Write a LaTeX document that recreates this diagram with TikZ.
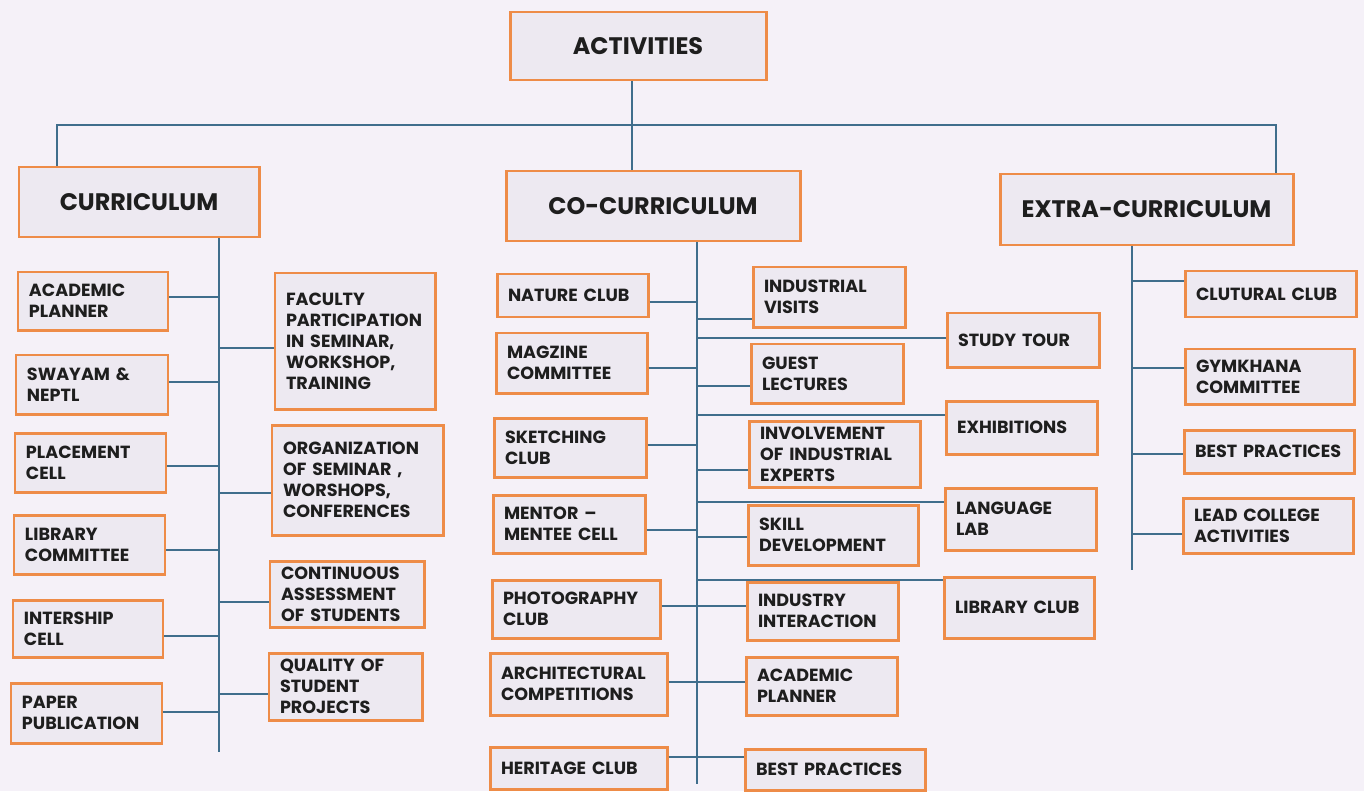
\documentclass[tikz,border=0pt]{standalone}
\usepackage{fontspec}
\setmainfont{Poppins}
\definecolor{boxorange}{RGB}{238,140,72}
\definecolor{boxfill}{RGB}{237,233,241}
\definecolor{paper}{RGB}{245,241,248}
\definecolor{linkblue}{RGB}{64,110,140}
\definecolor{ink}{RGB}{30,30,30}

\begin{document}
\begin{tikzpicture}[x=0.02cm,y=-0.02cm,
  box/.style={draw=boxorange,line width=1.7pt,fill=boxfill,text=ink,inner sep=0pt,
    align=left,font=\bfseries\fontsize{10}{12}\selectfont},
  head/.style={box,align=center,font=\bfseries\fontsize{13.6}{15}\selectfont},
  link/.style={draw=linkblue,line width=0.9pt}]
  \fill[paper] (0,0) rectangle (1364,791);
  \useasboundingbox (0,0) rectangle (1364,791);

  % header boxes
  \foreach \id/\xa/\ya/\xb/\yb/\txt in {
    act/510/12/766/80/ACTIVITIES,
    cur/19/167/259/237/CURRICULUM,
    cc/506/171/800/241/CO-CURRICULUM,
    ext/1000/174/1293/245/EXTRA-CURRICULUM} {
    \pgfmathsetmacro{\bw}{(\xb-\xa)*0.02}
    \pgfmathsetmacro{\bh}{(\yb-\ya)*0.02}
    \node[head,minimum width=\bw cm,minimum height=\bh cm] (\id) at ({(\xa+\xb)/2},{(\ya+\yb)/2}) {\txt};
  }

  % item boxes
  \foreach \id/\xa/\ya/\xb/\yb/\txt in {
    ap/18/272/168/330/{ACADEMIC\\PLANNER},
    sw/16/355/168/414/{SWAYAM \&\\NEPTL},
    pc/15/433/166/492/{PLACEMENT\\CELL},
    lc/14/515/165/574/{LIBRARY\\COMMITTEE},
    ic/13/600/163/657/{INTERSHIP\\CELL},
    pp/11/683/162/743/{PAPER\\PUBLICATION},
    fp/275/273/435/409/{FACULTY\\PARTICIPATION\\IN SEMINAR,\\WORKSHOP,\\TRAINING},
    os/272/425/443/535/{ORGANIZATION\\OF SEMINAR ,\\WORSHOPS,\\CONFERENCES},
    ca/270/561/424/627/{CONTINUOUS\\ASSESSMENT\\OF STUDENTS},
    qs/269/653/422/720/{QUALITY OF\\STUDENT\\PROJECTS},
    nc/497/274/648/317/{NATURE CLUB},
    mc/496/333/647/393/{MAGZINE\\COMMITTEE},
    sc/494/418/646/477/{SKETCHING\\CLUB},
    mm/493/495/645/553/{MENTOR –\\MENTEE CELL},
    pg/492/580/660/638/{PHOTOGRAPHY\\CLUB},
    ac/490/653/667/715/{ARCHITECTURAL\\COMPETITIONS},
    hc/490/747/667/789/{HERITAGE CLUB},
    iv/753/267/905/327/{INDUSTRIAL\\VISITS},
    gl/751/344/903/403/{GUEST\\LECTURES},
    ie/749/421/920/487/{INVOLVEMENT\\OF INDUSTRIAL\\EXPERTS},
    sd/748/505/918/565/{SKILL\\DEVELOPMENT},
    ii/747/582/898/640/{INDUSTRY\\INTERACTION},
    cp/746/657/897/715/{ACADEMIC\\PLANNER},
    cb/745/749/925/790/{BEST PRACTICES},
    st/947/313/1099/367/{STUDY TOUR},
    ex/946/401/1097/454/{EXHIBITIONS},
    ll/945/488/1096/550/{LANGUAGE\\LAB},
    lb/944/577/1094/638/{LIBRARY CLUB},
    cu/1185/271/1356/317/{CLUTURAL CLUB},
    gy/1185/349/1354/404/{GYMKHANA\\COMMITTEE},
    eb/1184/430/1354/473/{BEST PRACTICES},
    le/1183/498/1353/553/{LEAD COLLEGE\\ACTIVITIES}} {
    \pgfmathsetmacro{\bw}{(\xb-\xa)*0.02}
    \pgfmathsetmacro{\bh}{(\yb-\ya)*0.02}
    \pgfmathsetmacro{\tw}{(\xb-\xa)*0.02-0.44}
    \node[box,minimum width=\bw cm,minimum height=\bh cm,text width=\tw cm] (\id) at ({(\xa+\xb)/2},{(\ya+\yb)/2}) {\txt};
  }

  % bus and trunks
  \coordinate (busL) at (57,125);
  \coordinate (busM) at (632,125);
  \coordinate (busR) at (1276,125);
  \coordinate (ctr) at (219,752);
  \coordinate (cotr) at (697,784);
  \coordinate (extr) at (1132,570);
  \draw[link] (cur.north -| busL) -- (busL) -- (busR) -- (ext.north -| busR);
  \draw[link] (act.south -| busM) -- (cc.north -| busM);
  \draw[link] (cur.south -| ctr) -- (ctr);
  \draw[link] (cc.south -| cotr) -- (cotr);
  \draw[link] (ext.south -| extr) -- (extr);

  % branches
  \foreach \id/\an/\cy/\tr in {
    ap/east/297/ctr, sw/east/382/ctr, pc/east/466/ctr, lc/east/550/ctr,
    ic/east/636/ctr, pp/east/712/ctr, fp/west/348/ctr, os/west/493/ctr,
    ca/west/602/ctr, qs/west/694/ctr,
    nc/east/302/cotr, mc/east/368/cotr, sc/east/445/cotr, mm/east/530/cotr,
    iv/west/319/cotr, gl/west/386/cotr, ie/west/470/cotr, sd/west/537/cotr,
    st/west/338/cotr, ex/west/415/cotr, ll/west/502/cotr, lb/west/580/cotr,
    cu/west/281/extr, gy/west/368/extr, eb/west/454/extr, le/west/534/extr} {
    \draw[link] (\id.\an |- 0,\cy) -- (\tr |- 0,\cy);
  }
  \draw[link] (pg.east |- 0,606) -- (ii.west |- 0,606);
  \draw[link] (ac.east |- 0,682) -- (cp.west |- 0,682);
  \draw[link] (hc.east |- 0,757) -- (cb.west |- 0,757);
\end{tikzpicture}
\end{document}
